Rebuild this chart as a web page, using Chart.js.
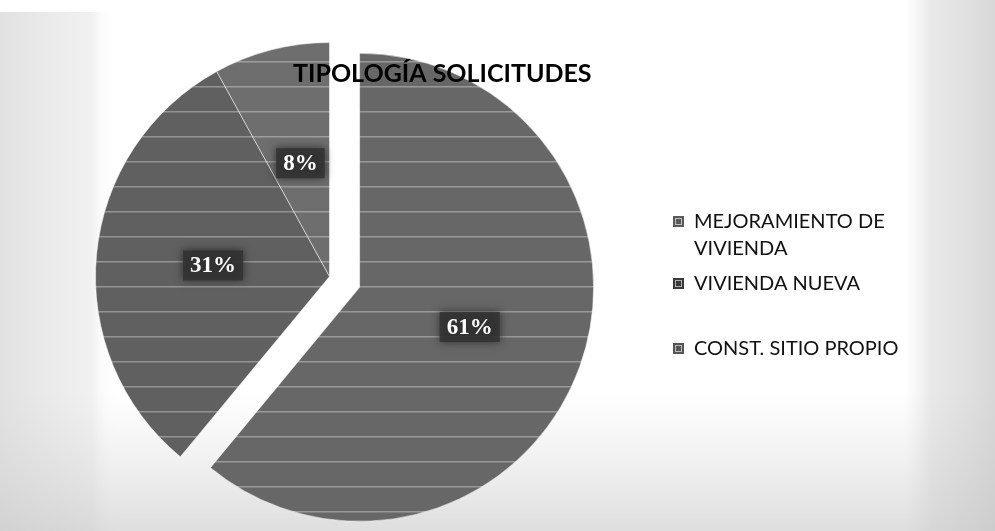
<!DOCTYPE html>
<html>
<head>
<meta charset="utf-8">
<script src="https://cdn.jsdelivr.net/npm/chart.js@4.4.1/dist/chart.umd.min.js"></script>
<style>
  html, body { margin: 0; padding: 0; background: #fff; }
  #wrap { position: relative; width: 995px; height: 531px; }
  canvas { display: block; }
</style>
</head>
<body>
<div id="wrap"><canvas id="c" width="995" height="531"></canvas></div>
<script>
// ---- data ----
const categories = ["MEJORAMIENTO DE VIVIENDA", "VIVIENDA NUEVA", "CONST. SITIO PROPIO"];
const legendLines = [["MEJORAMIENTO DE", "VIVIENDA"], ["VIVIENDA NUEVA"], ["CONST. SITIO PROPIO"]];
const values = [61, 31, 8];
const percentLabels = ["61%", "31%", "8%"];
const chartTitle = "TIPOLOGÍA SOLICITUDES";

// ---- styles ----
const sliceGrays = ["#676767", "#606060", "#6e6e6e"];
const markerGrays = ["#5a5a5a", "#3a3a3a", "#555555"];
const explodePx = [32, 0, 0];   // pie explosion distance per slice (pixels)

function stripePattern(base) {
  const c = document.createElement('canvas');
  c.width = 16; c.height = 25;
  const g = c.getContext('2d');
  g.fillStyle = base; g.fillRect(0, 0, 16, 25);
  g.fillStyle = 'rgba(255,255,255,0.33)';
  g.fillRect(0, 11, 16, 1.5);
  return document.getElementById('c').getContext('2d').createPattern(c, 'repeat');
}
const fills = sliceGrays.map(stripePattern);

const bgPlugin = {
  id: 'bg',
  beforeDraw(chart) {
    const ctx = chart.ctx, W = chart.width, H = chart.height;
    ctx.save();
    ctx.fillStyle = '#ffffff';
    ctx.fillRect(0, 0, W, H);
    let g = ctx.createLinearGradient(0, 0, 115, 0);
    g.addColorStop(0, 'rgba(200,200,200,0.55)');
    g.addColorStop(0.8, 'rgba(215,215,215,0.35)');
    g.addColorStop(1, 'rgba(255,255,255,0)');
    ctx.fillStyle = g; ctx.fillRect(0, 12, 115, H - 12);
    g = ctx.createLinearGradient(0, 390, 0, H);
    g.addColorStop(0, 'rgba(215,215,215,0)');
    g.addColorStop(1, 'rgba(200,200,200,0.6)');
    ctx.fillStyle = g; ctx.fillRect(0, 390, W, H - 390);
    g = ctx.createLinearGradient(905, 0, W, 0);
    g.addColorStop(0, 'rgba(210,210,210,0)');
    g.addColorStop(0.3, 'rgba(205,205,205,0.45)');
    g.addColorStop(1, 'rgba(195,195,195,0.65)');
    ctx.fillStyle = g; ctx.fillRect(905, 0, W - 905, H);
    ctx.restore();
  }
};

// move exploded slices outward along their mid-angle after Chart.js lays them out
const explodePlugin = {
  id: 'explode',
  afterDatasetsUpdate(chart) {
    const meta = chart.getDatasetMeta(0);
    meta.data.forEach((arc, i) => {
      const d = explodePx[i] || 0;
      if (!d) return;
      const mid = (arc.startAngle + arc.endAngle) / 2;
      arc.x += Math.cos(mid) * d;
      arc.y += Math.sin(mid) * d;
    });
  }
};

const labelPlugin = {
  id: 'pctLabels',
  afterDatasetsDraw(chart) {
    const ctx = chart.ctx;
    const meta = chart.getDatasetMeta(0);
    ctx.save();
    ctx.font = 'bold 23px "Liberation Serif", "DejaVu Serif", serif';
    ctx.textAlign = 'center';
    ctx.textBaseline = 'middle';
    meta.data.forEach((arc, i) => {
      const p = arc.getProps(['x', 'y', 'startAngle', 'endAngle', 'outerRadius']);
      const mid = (p.startAngle + p.endAngle) / 2;
      const r = p.outerRadius * 0.5;
      const x = p.x + Math.cos(mid) * r;
      const y = p.y + Math.sin(mid) * r;
      const txt = percentLabels[i];
      const w = ctx.measureText(txt).width;
      ctx.save();
      ctx.shadowColor = 'rgba(30,30,30,0.9)';
      ctx.shadowBlur = 8;
      ctx.fillStyle = 'rgba(50,50,50,0.85)';
      ctx.fillRect(x - w / 2 - 7, y - 15, w + 14, 30);
      ctx.restore();
      ctx.fillStyle = '#ffffff';
      ctx.fillText(txt, x, y + 1);
    });
    ctx.restore();
  }
};

const overlayPlugin = {
  id: 'overlay',
  afterDraw(chart) {
    const ctx = chart.ctx;
    ctx.save();
    // title
    ctx.font = 'bold 25px Lato, "Open Sans", sans-serif';
    ctx.textAlign = 'left';
    ctx.textBaseline = 'alphabetic';
    ctx.fillStyle = '#000000';
    ctx.fillText(chartTitle, 293, 82);
    // legend
    ctx.font = '20px Lato, "Open Sans", sans-serif';
    const itemY = [228, 290, 355];
    legendLines.forEach((lines, i) => {
      const by = itemY[i];
      ctx.fillStyle = markerGrays[i];
      ctx.fillRect(673, by - 12, 11, 11);
      ctx.strokeStyle = 'rgba(255,255,255,0.6)';
      ctx.lineWidth = 1;
      ctx.strokeRect(675.5, by - 9.5, 6, 6);
      ctx.fillStyle = '#111111';
      lines.forEach((t, k) => ctx.fillText(t, 694, by + k * 27));
    });
    ctx.restore();
  }
};

new Chart(document.getElementById('c'), {
  type: 'pie',
  data: {
    labels: categories,
    datasets: [{
      data: values,
      backgroundColor: fills,
      borderColor: 'rgba(255,255,255,0.5)',
      borderWidth: 1,
      offset: 0,
      hoverOffset: 0
    }]
  },
  options: {
    responsive: false,
    animation: false,
    events: [],
    radius: 234,
    layout: { padding: { left: 79, right: 415, top: 26, bottom: 4 } },
    plugins: {
      legend: { display: false },
      tooltip: { enabled: false },
      title: { display: false }
    }
  },
  plugins: [bgPlugin, explodePlugin, labelPlugin, overlayPlugin]
});
</script>
</body>
</html>
